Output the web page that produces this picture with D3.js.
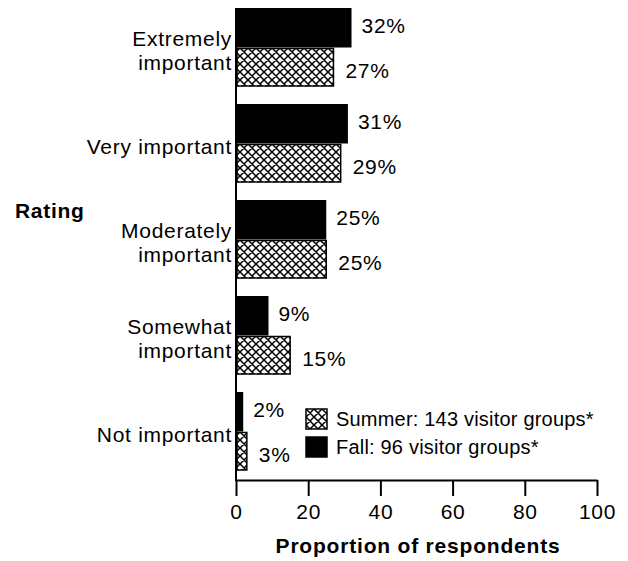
<!DOCTYPE html>
<html>
<head>
<meta charset="utf-8">
<script src="https://cdn.jsdelivr.net/npm/d3@7"></script>
<style>
body { margin: 0; background: #fff; }
text { font-family: Arial, "Liberation Sans", sans-serif; fill: #000; }
</style>
</head>
<body>
<div id="chart"></div>
<script>
var ratings = [["Extremely", "important"], ["Very important"], ["Moderately", "important"], ["Somewhat", "important"], ["Not important"]];
var seriesNames = ["Fall", "Summer"];
var fallValues = [32, 31, 25, 9, 2];
var summerValues = [27, 29, 25, 15, 3];
var xTicks = [0, 20, 40, 60, 80, 100];
var legendLabels = ["Summer: 143 visitor groups*", "Fall: 96 visitor groups*"];

var svg = d3.select("#chart").append("svg").attr("width", 628).attr("height", 561);

var defs = svg.append("defs");
var pat = defs.append("pattern").attr("id", "hatch").attr("patternUnits", "userSpaceOnUse")
  .attr("width", 8).attr("height", 8);
pat.append("rect").attr("width", 8).attr("height", 8).attr("fill", "#fff");
pat.append("path").attr("d", "M-2,-2L10,10M-2,10L10,-2M-2,6L2,10M6,-2L10,2M6,10L10,6M-2,2L2,-2")
  .attr("stroke", "#000").attr("stroke-width", 1.5);

var x = d3.scaleLinear().domain([0, 100]).range([236, 597]);
var cats = ratings.map(function (d) { return d.join(" "); });
var y = d3.scaleBand().domain(cats).range([8, 471]).paddingInner(17 / 96).paddingOuter(0);
var ySub = d3.scaleBand().domain(seriesNames).range([0, y.bandwidth()]);

var rows = cats.map(function (c, i) {
  return { cat: c, lines: ratings[i], Fall: fallValues[i], Summer: summerValues[i] };
});

var g = svg.selectAll(".row").data(rows).join("g").attr("class", "row")
  .attr("transform", function (d) { return "translate(0," + y(d.cat) + ")"; });

// fall bars (solid black)
g.append("rect")
  .attr("x", x(0) + 1)
  .attr("y", ySub("Fall"))
  .attr("width", function (d) { return x(d.Fall) - x(0) - 1; })
  .attr("height", ySub.bandwidth())
  .attr("fill", "#000");

// summer bars (crosshatch)
g.append("rect")
  .attr("x", x(0) + 1)
  .attr("y", ySub("Summer") + 1)
  .attr("width", function (d) { return x(d.Summer) - x(0) - 1; })
  .attr("height", ySub.bandwidth() - 2)
  .attr("fill", "url(#hatch)")
  .attr("stroke", "#000").attr("stroke-width", 1.5);

g.append("text")
  .attr("x", function (d) { return x(d.Fall) + 10; })
  .attr("y", ySub("Fall") + ySub.bandwidth() / 2 - 2)
  .attr("dy", "0.35em")
  .style("font-size", "21px").style("letter-spacing", "0.7px")
  .text(function (d) { return d.Fall + "%"; });

g.append("text")
  .attr("x", function (d) { return x(d.Summer) + 12; })
  .attr("y", ySub("Summer") + ySub.bandwidth() / 2 + 3)
  .attr("dy", "0.35em")
  .style("font-size", "21px").style("letter-spacing", "0.7px")
  .text(function (d) { return d.Summer + "%"; });

// category labels
g.each(function (d) {
  var t = d3.select(this).append("text")
    .attr("text-anchor", "end")
    .style("font-size", "21px").style("letter-spacing", "0.7px");
  var n = d.lines.length;
  d.lines.forEach(function (line, k) {
    t.append("tspan").attr("x", 232)
      .attr("y", y.bandwidth() / 2 + 3 + (k - (n - 1) / 2) * 24)
      .attr("dy", "0.35em")
      .text(line);
  });
});

// axes
var xAxis = svg.append("g").attr("transform", "translate(0,480)")
  .call(d3.axisBottom(x).tickValues(xTicks).tickSize(16).tickPadding(8).tickSizeOuter(0));
xAxis.select(".domain").attr("stroke-width", 2);
xAxis.selectAll(".tick line").attr("stroke-width", 2);
xAxis.selectAll(".tick text").style("font-size", "21px").style("letter-spacing", "0.7px")
  .attr("font-family", null);

svg.append("line").attr("x1", x(0)).attr("x2", x(0)).attr("y1", 8).attr("y2", 481)
  .attr("stroke", "#000").attr("stroke-width", 2);

svg.append("text").attr("x", 418).attr("y", 553).attr("text-anchor", "middle")
  .style("font-size", "21px").style("font-weight", "bold").style("letter-spacing", "0.8px")
  .text("Proportion of respondents");

svg.append("text").attr("x", 15).attr("y", 218)
  .style("font-size", "21px").style("font-weight", "bold").style("letter-spacing", "0.7px")
  .text("Rating");

// legend
var legend = svg.append("g").attr("transform", "translate(306,409)");
var lg = legend.selectAll("g").data(legendLabels).join("g")
  .attr("transform", function (d, i) { return "translate(0," + i * 28 + ")"; });
lg.append("rect").attr("width", 21).attr("height", 20)
  .attr("fill", function (d, i) { return i === 0 ? "url(#hatch)" : "#000"; })
  .attr("stroke", "#000").attr("stroke-width", 1.5);
lg.append("text").attr("x", 30).attr("y", 10).attr("dy", "0.35em")
  .style("font-size", "20px").style("letter-spacing", "0.2px")
  .text(function (d) { return d; });
</script>
</body>
</html>
